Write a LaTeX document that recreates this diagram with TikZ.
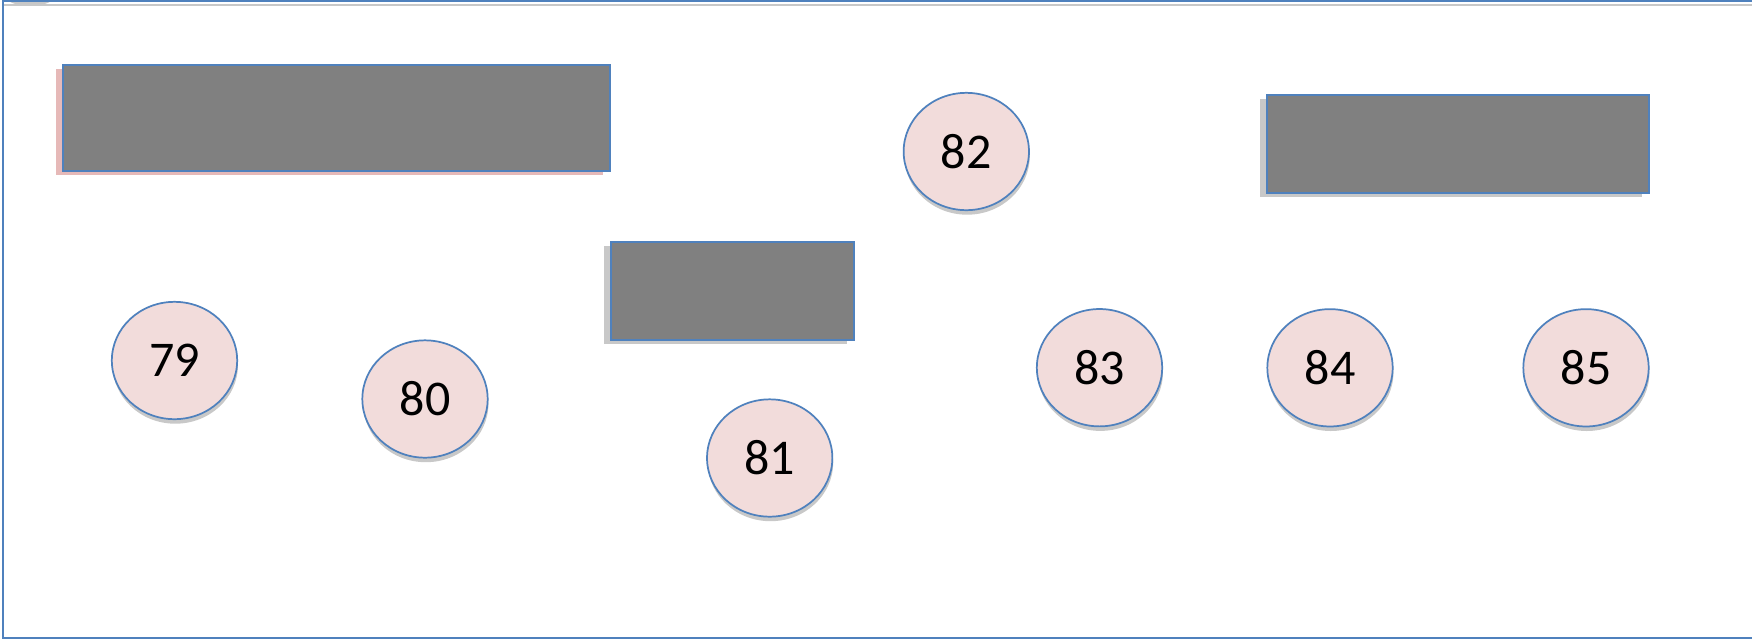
\documentclass[tikz,border=0pt]{standalone}
\usepackage{fontspec}
\setmainfont{Carlito}
\usetikzlibrary{shadows,shapes.geometric}
\definecolor{offblue}{HTML}{4F81BD}
\definecolor{circfill}{HTML}{F2DCDB}
\definecolor{rectfill}{HTML}{808080}
\definecolor{pinkshadow}{HTML}{E6B9B8}
\definecolor{grayshadow}{HTML}{C8C8C8}
\tikzset{
  bubble/.style={ellipse, draw=offblue, line width=1.3pt, fill=circfill,
    minimum width=94pt, minimum height=88pt, inner sep=0pt,
    font=\fontsize{37.5pt}{40pt}\selectfont,
    drop shadow={shadow xshift=0.6pt, shadow yshift=-3.4pt, fill=grayshadow, opacity=1}},
  greybox/.style={rectangle, draw=offblue, line width=1.5pt, fill=rectfill, inner sep=0pt},
  greyshadow/.style={drop shadow={shadow xshift=-5.25pt, shadow yshift=-3pt, fill=grayshadow, opacity=1}},
  pinkshadowstyle/.style={drop shadow={shadow xshift=-5.25pt, shadow yshift=-3pt, fill=pinkshadow, opacity=1}},
  frameline/.style={draw=offblue, line width=1.6pt},
}
\begin{document}
\begin{tikzpicture}[x=0.75pt, y=-0.75pt]
\useasboundingbox (0,0) rectangle (1752,640);
\clip (0,0) rectangle (1752,640);
\fill[white] (0,0) rectangle (1752,640);
% cut-off shadow at top-left and frame shadow
\fill[black!22] (30,0) ellipse [x radius=21, y radius=5.5];
\draw[grayshadow, line width=1.6pt] (4,5.2) -- (1760,5.2);
% frame
\draw[frameline] (1760,0.8) -- (2.6,0.8) -- (2.6,638.2) -- (1760,638.2);
% boxes
\node[greybox, pinkshadowstyle, minimum width=410pt, minimum height=79pt] (boxA) at (336.75,118) {};
\node[greybox, greyshadow, minimum width=182.5pt, minimum height=73.5pt] (boxB) at (732.4,291.2) {};
\node[greybox, greyshadow, minimum width=286.5pt, minimum height=73pt] (boxC) at (1458,144) {};
% circles
\node[bubble] (n79) at (174.5,360.5) {79};
\node[bubble] (n80) at (425,399) {80};
\node[bubble] (n81) at (769.7,458) {81};
\node[bubble] (n82) at (966.3,151.5) {82};
\node[bubble] (n83) at (1099.5,367.7) {83};
\node[bubble] (n84) at (1330,367.8) {84};
\node[bubble] (n85) at (1586,367.8) {85};
\end{tikzpicture}
\end{document}
